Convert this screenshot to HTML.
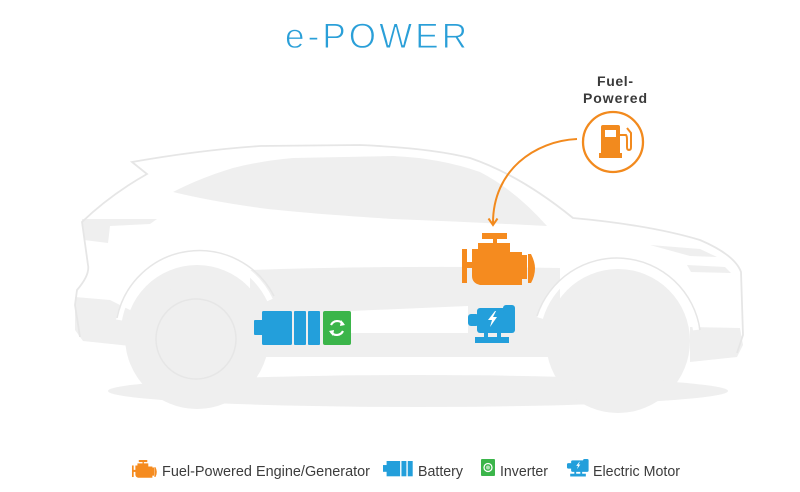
<!DOCTYPE html>
<html><head><meta charset="utf-8"><style>
html,body{margin:0;padding:0;background:#fff;}
svg{display:block;}
</style></head><body>
<svg width="800" height="492" viewBox="0 0 800 492" xmlns="http://www.w3.org/2000/svg">
<rect width="800" height="492" fill="#fff"/>
<!-- car silhouette -->
<g fill="#efefef">
  <ellipse cx="418" cy="391" rx="310" ry="16"/>
  <path d="M250,270 Q400,265 560,268 L560,357 L250,357 Z"/>
  <path d="M75,297 L110,300 L130,310 L140,347 L83,341 L75,330 Z"/>
  <path d="M690,327 L740,328 L743,345 L737,357 L690,362 Z"/>
  <circle cx="197" cy="337" r="72"/>
  <circle cx="196" cy="340" r="57"/>
  <circle cx="618" cy="341" r="72"/>
  <circle cx="618" cy="345" r="58"/>
  <path d="M173,192 Q200,178 233,168 Q260,161 293,158 L393,156 Q440,158 480,172 Q515,190 547,226 Q470,222 393,219 Q300,213 260,208 Q210,201 173,192 Z"/>
  <path d="M82,219 L157,219 L150,224 L110,226 L108,243 L84,240 Z"/>
  <path d="M650,245 L700,249 L717,257 L690,256 Z"/>
  <path d="M687,265 L725,267 L731,273 L691,272 Z"/>
</g>
<!-- arches -->
<path d="M119,320 A80,80 0 0 1 270,300" fill="none" stroke="#fff" stroke-width="6"/>
<path d="M117,318 A84,84 0 0 1 274,296" fill="none" stroke="#e6e6e6" stroke-width="1.5"/>
<path d="M540,318 A80,80 0 0 1 696,330" fill="none" stroke="#fff" stroke-width="6"/>
<path d="M537,316 A84,84 0 0 1 700,330" fill="none" stroke="#e6e6e6" stroke-width="1.5"/>
<circle cx="196" cy="339" r="40" fill="none" stroke="#e6e6e6" stroke-width="1.5"/>
<!-- outline -->
<path d="M80,337 L75,305 L77,290 Q90,275 88,265 L82,222 Q110,195 147,174 L132,162 Q200,150 260,146 L360,145 Q430,148 470,158 Q520,175 573,218 Q650,225 700,240 Q735,255 741,272 L743,335 L737,353" fill="none" stroke="#e6e6e6" stroke-width="1.8"/>
<!-- white flow stripe -->
<path d="M351,311 L468,306 L468,333 L351,333 Z" fill="#fff"/>

<!-- title -->
<text x="285" y="48" font-family="Liberation Sans, sans-serif" font-size="35" fill="#2a9fd8" stroke="#fff" stroke-width="0.9" textLength="182" lengthAdjust="spacing">e-POWER</text>

<!-- Fuel-Powered label -->
<text x="615" y="86" text-anchor="middle" font-family="Liberation Sans, sans-serif" font-weight="bold" font-size="14" fill="#3a3a3a" textLength="36" lengthAdjust="spacing">Fuel-</text>
<text x="615" y="103" text-anchor="middle" font-family="Liberation Sans, sans-serif" font-weight="bold" font-size="14" fill="#3a3a3a" textLength="64" lengthAdjust="spacing">Powered</text>

<!-- fuel circle -->
<circle cx="613" cy="142" r="30" fill="#fff" stroke="#f28a1e" stroke-width="2.3"/>
<g fill="#f28a1e">
  <rect x="601" y="125" width="19" height="30" rx="2"/>
  <rect x="599" y="153" width="23" height="5"/>
</g>
<rect x="605" y="130" width="11" height="7" fill="#fff"/>
<path d="M620,135 L626,135 Q627,136 627,140 L627,147 Q627,150 629,150 Q631,150 631,147 L631,133 L627,128" fill="none" stroke="#f28a1e" stroke-width="2"/>
<!-- arrow -->
<path d="M577,139 C535,141 493,170 493,223" fill="none" stroke="#f28a1e" stroke-width="2"/>
<path d="M488.5,218.5 L493,225 L497.5,218.5" fill="none" stroke="#f28a1e" stroke-width="2"/>

<!-- engine -->
<g id="eng" fill="#f58b1f">
  <rect x="482" y="233" width="25" height="6"/>
  <rect x="493" y="238" width="4" height="6"/>
  <rect x="462" y="249" width="5" height="34"/>
  <rect x="466" y="262" width="7" height="6"/>
  <path d="M472,249 L478,249 L478,243 L510,243 L510,252 L522,252 L522,285 L480,285 Q472,283 472,276 Z"/>
  <rect x="521" y="255" width="6" height="24"/>
  <path d="M528,254 L531,254 Q535,262 535,268 Q535,276 531,283 L528,283 Z"/>
</g>

<!-- battery -->
<g fill="#239fdb">
  <rect x="254" y="320" width="9" height="15" rx="1"/>
  <rect x="262" y="311" width="30" height="34" rx="1.5"/>
  <rect x="294" y="311" width="12" height="34" rx="1"/>
  <rect x="308" y="311" width="12" height="34" rx="1"/>
</g>
<!-- inverter -->
<rect x="323" y="311" width="28" height="34" rx="2" fill="#3bb54a"/>
<g fill="none" stroke="#fff" stroke-width="2.2">
  <path d="M331,325 A7,7 0 0 1 343,324"/>
  <path d="M343,331 A7,7 0 0 1 331,332"/>
</g>
<path d="M341,320 L345,325 L340,326 Z M333,336 L329,331 L334,330 Z" fill="#fff"/>

<!-- motor -->
<g fill="#239fdb">
  <rect x="468" y="314" width="11" height="12" rx="3"/>
  <rect x="477" y="308" width="38" height="25" rx="3"/>
  <rect x="503" y="305" width="12" height="8" rx="3"/>
  <rect x="484" y="332" width="4" height="6"/>
  <rect x="497" y="332" width="4" height="6"/>
  <rect x="475" y="337" width="34" height="6"/>
</g>
<path d="M495,311 L488,320 L492,320 L490,327 L497,317 L493,317 L496,311 Z" fill="#fff"/>

<!-- legend icons -->
<g transform="translate(-25.1,380.8) scale(0.34)" fill="#f58b1f">
  <rect x="482" y="233" width="25" height="6"/>
  <rect x="493" y="238" width="4" height="6"/>
  <rect x="462" y="249" width="5" height="34"/>
  <rect x="466" y="262" width="7" height="6"/>
  <path d="M472,249 L478,249 L478,243 L510,243 L510,252 L522,252 L522,285 L480,285 Q472,283 472,276 Z"/>
  <rect x="521" y="255" width="6" height="24"/>
  <path d="M528,254 L531,254 Q535,262 535,268 Q535,276 531,283 L528,283 Z"/>
</g>
<g transform="translate(268.7,321.05) scale(0.45)" fill="#239fdb">
  <rect x="254" y="320" width="9" height="15"/>
  <rect x="262" y="311" width="30" height="34"/>
  <rect x="295" y="311" width="11" height="34"/>
  <rect x="309" y="311" width="11" height="34"/>
</g>
<g transform="translate(319.5,303.5) scale(0.5)">
  <rect x="323" y="311" width="28" height="34" rx="2" fill="#3bb54a"/>
  <circle cx="337" cy="328" r="8" fill="none" stroke="#fff" stroke-width="2.5"/>
  <circle cx="337" cy="328" r="4" fill="#fff" opacity="0.6"/>
</g>
<g transform="translate(351.7,318.7) scale(0.46)" fill="#239fdb">
  <rect x="468" y="314" width="11" height="12" rx="3"/>
  <rect x="477" y="308" width="38" height="25" rx="3"/>
  <rect x="503" y="305" width="12" height="8" rx="3"/>
  <rect x="484" y="332" width="4" height="6"/>
  <rect x="497" y="332" width="4" height="6"/>
  <rect x="475" y="337" width="34" height="6"/>
  <path d="M495,311 L488,320 L492,320 L490,327 L497,317 L493,317 L496,311 Z" fill="#fff"/>
</g>

<!-- legend text -->
<g font-family="Liberation Sans, sans-serif" font-size="14.5" fill="#3c3c3c">
  <text x="162" y="476" textLength="208" lengthAdjust="spacingAndGlyphs">Fuel-Powered Engine/Generator</text>
  <text x="418" y="476" textLength="45" lengthAdjust="spacingAndGlyphs">Battery</text>
  <text x="500" y="476" textLength="48" lengthAdjust="spacingAndGlyphs">Inverter</text>
  <text x="593" y="476" textLength="87" lengthAdjust="spacingAndGlyphs">Electric Motor</text>
</g>
</svg>
</body></html>
